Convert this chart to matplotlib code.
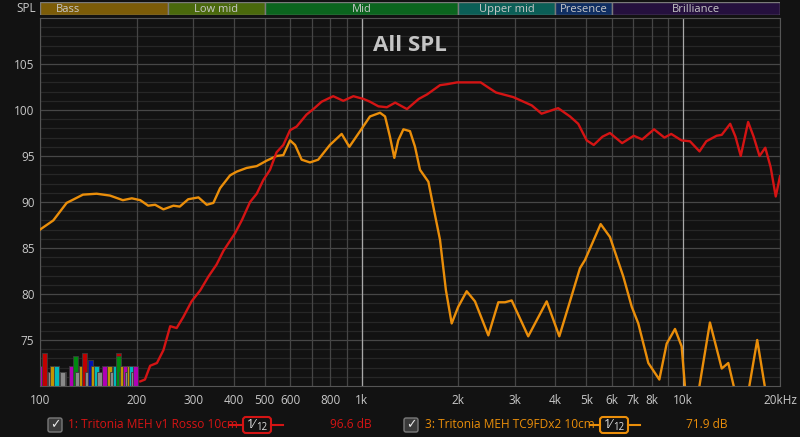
import numpy as np
import matplotlib.pyplot as plt
from matplotlib.patches import FancyBboxPatch

plt.rcParams['font.family'] = ['Open Sans', 'DejaVu Sans']

# curve 1: Tritonia MEH v1 Rosso 10cm (red)
red_f = [205, 212, 220, 231, 242, 254, 266, 279, 296, 315, 334, 354, 372, 404, 424, 450, 472, 495,
         519, 544, 571, 599, 628, 674, 708, 751, 816, 877, 943, 1014, 1062, 1128, 1198, 1272, 1384,
         1505, 1599, 1753, 1840, 1980, 2346, 2464, 2618, 2963, 3382, 3627, 4085, 4446, 4716, 5011,
         5270, 5610, 5918, 6457, 7018, 7456, 8116, 8742, 9177, 9878, 10500, 11240, 11800, 12700,
         13180, 14000, 14540, 15100, 15920, 16560, 17270, 18000, 18700, 19400, 20000]
red_db = [70.5, 70.7, 72.2, 72.5, 73.9, 76.5, 76.3, 77.5, 79.2, 80.4, 81.9, 83.2, 84.7, 86.6, 88.0, 90.0, 90.9, 92.4,
          93.5, 95.4, 96.2, 97.8, 98.2, 99.5, 100.1, 100.9, 101.5, 101.0, 101.5, 101.2, 100.9, 100.4, 100.3, 100.8, 100.1,
          101.2, 101.7, 102.7, 102.8, 103.0, 103.0, 102.5, 101.9, 101.4, 100.5, 99.6, 100.2, 99.3, 98.5, 96.7,
          96.2, 97.1, 97.5, 96.4, 97.2, 96.8, 97.9, 97.0, 97.4, 96.7, 96.6, 95.5, 96.6, 97.2,
          97.3, 98.5, 97.1, 95.0, 98.7, 97.1, 95.0, 95.9, 93.8, 90.6, 92.8]

# curve 3: Tritonia MEH TC9FDx2 10cm (orange)
org_f = [100, 110, 121, 136, 150, 165, 181, 193, 205, 217, 228, 242, 260, 272, 289, 311, 330, 346, 363,
         390, 409, 439, 472, 507, 544, 571, 599, 621, 651, 691, 733, 797, 867, 916, 989, 1062, 1141,
         1183, 1225, 1264, 1300, 1349, 1414, 1466, 1519, 1613, 1671, 1753, 1829, 1906, 1997, 2122,
         2252, 2478, 2662, 2792, 2929, 3297, 3763, 4119, 4446, 4775, 4951, 5538, 5918, 6513, 6920,
         7250, 7790, 8430, 8884, 9430, 9890, 10130, 10600, 11220, 12110, 13180, 13810, 14380, 15200,
         16040, 16990, 17950, 18800, 20000]
org_db = [87.0, 88.0, 89.9, 90.8, 90.9, 90.7, 90.2, 90.4, 90.2, 89.6, 89.7, 89.2, 89.6, 89.5, 90.3, 90.5, 89.7, 89.9, 91.5,
          92.9, 93.3, 93.7, 93.9, 94.5, 95.0, 95.1, 96.7, 96.2, 94.6, 94.3, 94.6, 96.2, 97.4, 96.0, 97.7, 99.3, 99.7,
          99.3, 97.1, 94.8, 96.7, 97.9, 97.7, 96.0, 93.5, 92.2, 89.5, 85.9, 80.4, 76.8, 78.6, 80.3,
          79.2, 75.5, 79.1, 79.1, 79.3, 75.4, 79.2, 75.4, 79.2, 82.8, 83.7, 87.6, 86.2, 81.9, 78.6,
          76.8, 72.5, 70.7, 74.6, 76.2, 74.3, 69.9, 65.0, 69.9, 76.9, 71.9, 72.5, 69.9, 65.0,
          69.9, 75.0, 69.9, 64.0, 63.0]

# little coloured bars at the bottom left
bar_f = [100, 103.3, 107.6, 109.8, 112.3, 117.5, 125.3, 128.8, 131, 134.4, 137.7, 140.5, 143.3, 146.5,
         150, 153.3, 158.7, 164.2, 168, 171.7, 175, 175, 179, 181, 184, 187, 190, 193, 195, 198]
bar_db = [72.2, 73.55, 71.55, 72.2, 72.2, 71.55, 72.2, 73.3, 71.55, 72.2, 73.55, 71.55, 72.83, 72.2,
          72.2, 71.55, 72.2, 72.2, 71.55, 72.2, 73.55, 73.3, 71.55, 72.2, 72.2, 71.55, 72.2, 72.2, 71.55, 72.2]
bar_c = ['m', 'r', 'g', 'y', 'c', 'g', 'm', 'G', 'g', 'y', 'r', 'g', 'b', 'y',
         'c', 'g', 'm', 'y', 'g', 'c', 'r', 'G', 'g', 'y', 'm', 'g', 'y', 'c', 'g', 'm']
bar_cols = {'m': '#b000b4', 'r': '#c00000', 'g': '#8a8a8a', 'y': '#c39400', 'c': '#00b8bc',
            'G': '#008a10', 'b': '#0010b0'}
# grey floor under the bars
floor_f = [104, 116, 130, 141, 153, 165, 178, 190]
floor_db = [71.55] * 8

bands = ['Bass', 'Low mid', 'Mid', 'Upper mid', 'Presence', 'Brilliance']
band_lo = [100, 250, 500, 2000, 4000, 6000]
band_hi = [250, 500, 2000, 4000, 6000, 20000]
band_cols = ['#7c5c08', '#4a690c', '#0b651e', '#0b5f57', '#0f2e62', '#25103e']

xticks = [100, 200, 300, 400, 500, 600, 800, 1000, 2000, 3000, 4000, 5000, 6000, 7000, 8000, 10000, 20000]
xlabels = ['100', '200', '300', '400', '500', '600', '800', '1k', '2k', '3k', '4k', '5k', '6k', '7k', '8k', '10k', '20kHz']

RED = '#d41414'
ORG = '#ea8e0a'
TXT = '#c8c8c8'
W, H = 800, 437

fig = plt.figure(figsize=(8, 4.37), dpi=100, facecolor='#121212')
ax = fig.add_axes([40 / W, (H - 386) / H, 740 / W, 368 / H])
ax.set_facecolor('#121212')
ax.set_xscale('log')
ax.set_xlim(100, 20000)
ax.set_ylim(70, 110)

# grid
for v in range(71, 110):
    c = '#474747' if v % 5 == 0 else '#272727'
    ax.axhline(v, color=c, lw=0.9, zorder=0)
for f in list(range(100, 1000, 100)) + list(range(1000, 10000, 1000)) + [20000]:
    ax.axvline(f, color='#454545', lw=0.9, zorder=0)
for f in [1000, 10000]:
    ax.axvline(f, color='#a8a8a8', lw=0.9, zorder=0)

for spine in ax.spines.values():
    spine.set_color('#555555')

ax.set_xticks(xticks)
ax.set_xticklabels(xlabels)
ax.xaxis.set_minor_locator(plt.NullLocator())
ax.set_yticks(range(75, 110, 5))
ax.tick_params(length=0, colors=TXT, labelsize=8.5)
ax.tick_params(axis='x', pad=6)
ax.tick_params(axis='y', pad=4)

# bars
k = 10 ** 0.008
for f, d in zip(floor_f, floor_db):
    ax.bar(f, d - 70, bottom=70, width=f * (k * k - 1 / (k * k)), color='#8a8a8a',
           edgecolor='#3c3c3c', lw=0.6, zorder=1.5)
for f, d, c in zip(bar_f, bar_db, bar_c):
    ax.bar(f, d - 70, bottom=70, width=f * (k - 1 / k), color=bar_cols[c],
           edgecolor='#3c3c3c', lw=0.6, zorder=2)

ax.plot(org_f, org_db, color=ORG, lw=1.7, zorder=3, solid_joinstyle='round')
ax.plot(red_f, red_db, color=RED, lw=1.7, zorder=4, solid_joinstyle='round')

ax.text(0.5, 0.955, 'All SPL', transform=ax.transAxes, ha='center', va='top',
        fontsize=16, fontweight='bold', color='#c4c4c4')

# band strip
bx = fig.add_axes([40 / W, (H - 15) / H, 740 / W, 13 / H])
bx.set_xscale('log')
bx.set_xlim(100, 20000)
bx.set_ylim(0, 1)
bx.axis('off')
for name, lo, hi, c in zip(bands, band_lo, band_hi, band_cols):
    bx.axvspan(lo, hi, color=c, ec='#7a7a7a', lw=1)
    xc = np.sqrt(lo * hi) if name != 'Bass' else 122
    bx.text(xc, 0.45, name, ha='center', va='center', fontsize=8, color=TXT)
fig.text(36 / W, (H - 8) / H, 'SPL', ha='right', va='center', fontsize=8.5, color=TXT)

# legend row
ly = (H - 425) / H


def checkbox(x):
    fig.patches.append(FancyBboxPatch((x - 7, H - 432), 14, 14, boxstyle='round,pad=0,rounding_size=2',
                                      transform=None, fc='#3a3a3a', ec='#7a7a7a', lw=1))
    fig.text(x / W, ly, '✓', ha='center', va='center', fontsize=9, color='#e8e8e8',
             family='DejaVu Sans', fontweight='bold')


def smooth_box(x0, x1, bx0, bx1, col):
    fig.lines.append(plt.Line2D([x0 / W, bx0 / W], [ly, ly], color=col, lw=1.5, transform=fig.transFigure))
    fig.lines.append(plt.Line2D([bx1 / W, x1 / W], [ly, ly], color=col, lw=1.5, transform=fig.transFigure))
    fig.patches.append(FancyBboxPatch((bx0, H - 433), bx1 - bx0, 16, boxstyle='round,pad=0,rounding_size=3',
                                      transform=None, fc='#121212', ec=col, lw=1.5))
    fig.text((bx0 + 8) / W, ly + 1 / H, '1⁄', ha='center', va='center', fontsize=9, color='#e0e0e0')
    fig.text((bx0 + 19) / W, ly - 3 / H, '12', ha='center', va='center', fontsize=7, color='#e0e0e0')


checkbox(55)
fig.text(68 / W, ly, '1: Tritonia MEH v1 Rosso 10cm', ha='left', va='center', fontsize=8.6, color=RED)
smooth_box(230, 283, 243, 271, RED)
fig.text(330 / W, ly, '96.6 dB', ha='left', va='center', fontsize=8.6, color=RED)

checkbox(411)
fig.text(425 / W, ly, '3: Tritonia MEH TC9FDx2 10cm', ha='left', va='center', fontsize=8.6, color=ORG)
smooth_box(590, 640, 600, 628, ORG)
fig.text(686 / W, ly, '71.9 dB', ha='left', va='center', fontsize=8.6, color=ORG)

fig.savefig('out.png', dpi=100, facecolor=fig.get_facecolor())
